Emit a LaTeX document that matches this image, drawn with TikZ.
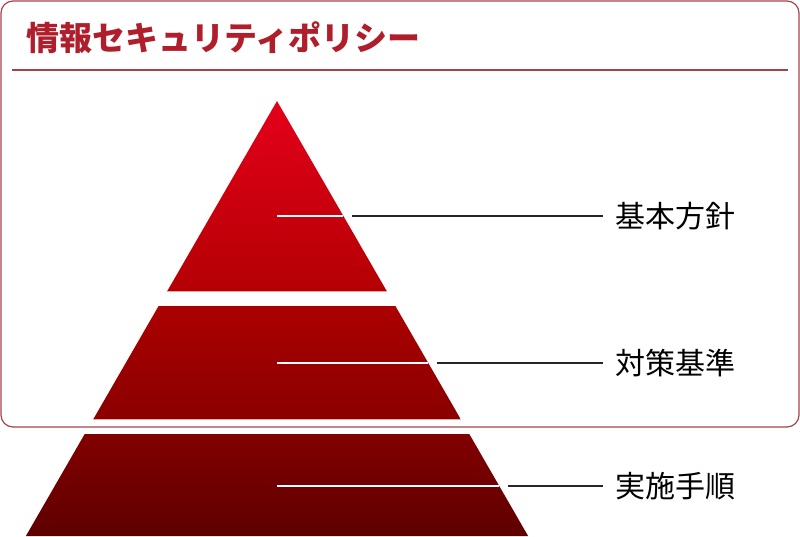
\documentclass[tikz,border=0pt]{standalone}
\usepackage{fontspec}
\newfontfamily\cjk{Noto Sans CJK JP}

\definecolor{titlered}{HTML}{B01E2B}
\definecolor{framered}{HTML}{A3434B}
\definecolor{edgepink}{HTML}{F0A49A}

\tikzset{
	leader/.style = {draw = black!85, line width = 1.3pt},
	inlead/.style = {draw = white, line width = 1.3pt},
	label/.style = {font = \cjk\fontsize{30}{30}\selectfont, anchor = west, inner xsep = 12pt, inner ysep = 0},
	tieredge/.style = {draw = edgepink, line width = .8pt},
}

\begin{document}
\begin{tikzpicture}[x = 1pt, y = -1pt]
	\useasboundingbox (0, 0) rectangle (800, 536);

	% frame and title
	\draw [framered, line width = 1.2pt, rounded corners = 12pt] (1, 1) rectangle (799, 427);
	\draw [framered, line width = 1.2pt] (12, 70) -- (788, 70);
	\node [anchor = west, inner sep = 0, text = titlered, font = \cjk\bfseries\fontsize{33}{33}\selectfont] (title) at (26, 38) {情報セキュリティポリシー};

	% pyramid
	\coordinate (p1) at (277, 101);
	\coordinate (p2) at (167.3, 291);
	\coordinate (p3) at (386.7, 291);
	\coordinate (p4) at (158.6, 306);
	\coordinate (p5) at (395.4, 306);
	\coordinate (p6) at (460.6, 419);
	\coordinate (p7) at (93.4, 419);
	\coordinate (p8) at (84.7, 434);
	\coordinate (p9) at (469.3, 434);
	\coordinate (p10) at (528.1, 536);
	\coordinate (p11) at (25.9, 536);

	\path [top color = {rgb,255:red,228;green,0;blue,26}, bottom color = {rgb,255:red,180;green,0;blue,4}] (p1) -- (p3) -- (p2) -- cycle;
	\path [top color = {rgb,255:red,172;green,0;blue,0}, bottom color = {rgb,255:red,138;green,0;blue,0}] (p4) -- (p5) -- (p6) -- (p7) -- cycle;
	\path [top color = {rgb,255:red,130;green,0;blue,0}, bottom color = {rgb,255:red,94;green,0;blue,0}] (p8) -- (p9) -- (p10) -- (p11) -- cycle;
	\draw [tieredge] (p2) -- (p3);
	\draw [tieredge] (p7) -- (p6);

	% labels
	\node [label] (t1) at (603, 216) {基本方針};
	\node [label] (t2) at (603, 363) {対策基準};
	\node [label] (t3) at (603, 486) {実施手順};

	\coordinate (c1) at (277, 216);
	\coordinate (e1) at (343.4, 216);
	\coordinate (g1) at (352, 216);
	\coordinate (c2) at (277, 363);
	\coordinate (e2) at (428.3, 363);
	\coordinate (g2) at (437, 363);
	\coordinate (c3) at (277, 486);
	\coordinate (e3) at (499.3, 486);
	\coordinate (g3) at (508, 486);

	\draw [inlead] (c1) -- (e1);
	\draw [inlead] (c2) -- (e2);
	\draw [inlead] (c3) -- (e3);
	\draw [leader] (g1) -- (t1);
	\draw [leader] (g2) -- (t2);
	\draw [leader] (g3) -- (t3);
\end{tikzpicture}
\end{document}
